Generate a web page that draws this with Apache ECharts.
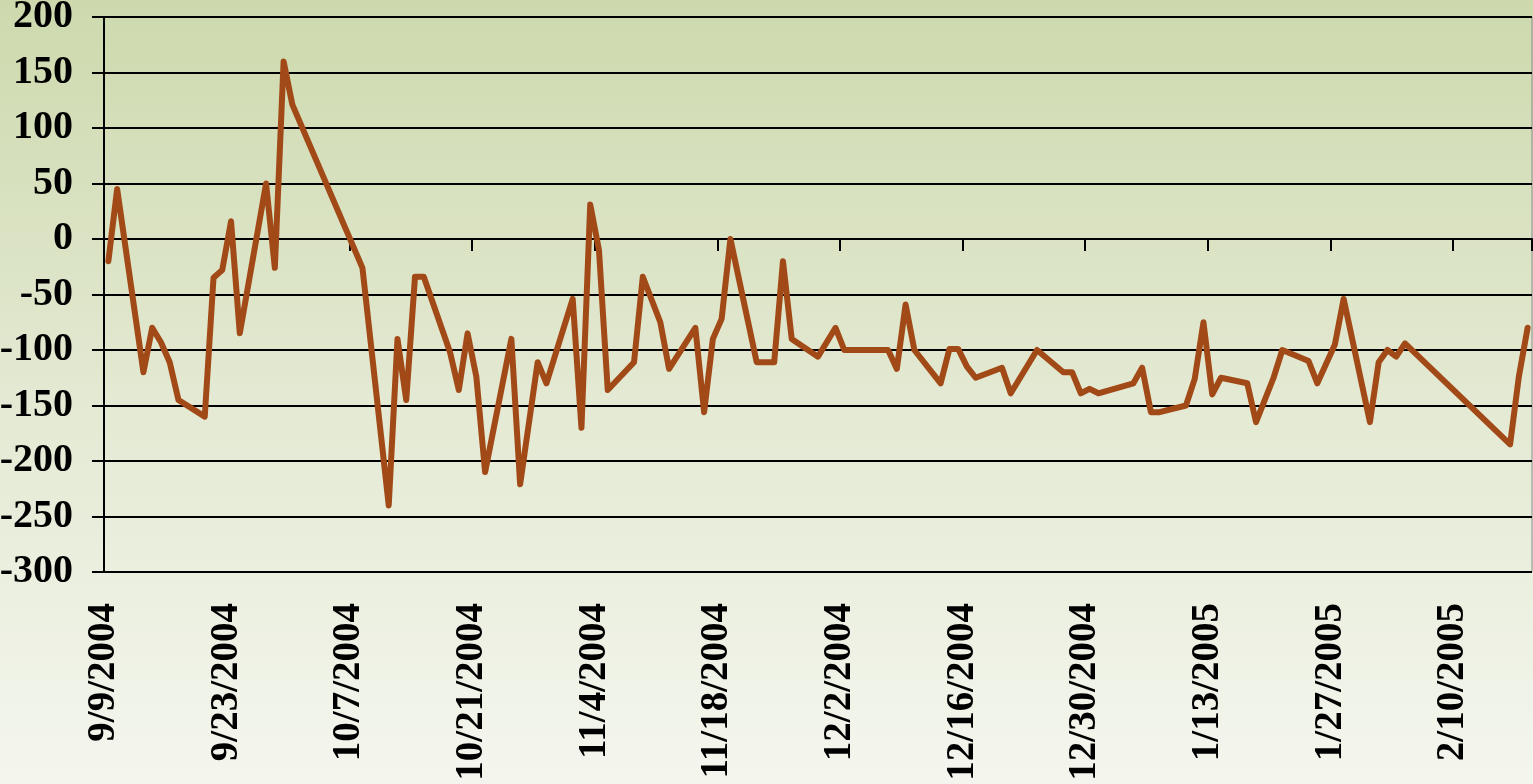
<!DOCTYPE html>
<html>
<head>
<meta charset="utf-8">
<script src="https://cdn.jsdelivr.net/npm/echarts@6/dist/echarts.min.js"></script>
<style>
  html, body { margin: 0; padding: 0; }
  #chart { width: 1533px; height: 784px; }
</style>
</head>
<body>
<div id="chart"></div>
<script>
// daily values
const dates = [
  '9/9/2004','9/10/2004','9/13/2004','9/14/2004','9/15/2004','9/16/2004','9/17/2004',
  '9/20/2004','9/21/2004','9/22/2004','9/23/2004','9/24/2004','9/27/2004','9/28/2004',
  '9/29/2004','9/30/2004','10/8/2004','10/11/2004','10/12/2004','10/13/2004','10/14/2004',
  '10/15/2004','10/18/2004','10/19/2004','10/20/2004','10/21/2004','10/22/2004','10/25/2004',
  '10/26/2004','10/28/2004','10/29/2004','11/1/2004','11/2/2004','11/3/2004','11/4/2004',
  '11/5/2004','11/8/2004','11/9/2004','11/11/2004','11/12/2004','11/15/2004','11/16/2004',
  '11/17/2004','11/18/2004','11/19/2004','11/22/2004','11/24/2004','11/25/2004','11/26/2004',
  '11/29/2004','12/1/2004','12/2/2004','12/7/2004','12/8/2004','12/9/2004','12/10/2004',
  '12/13/2004','12/14/2004','12/15/2004','12/16/2004','12/17/2004','12/20/2004','12/21/2004',
  '12/24/2004','12/27/2004','12/28/2004','12/29/2004','12/30/2004','12/31/2004','1/4/2005',
  '1/5/2005','1/6/2005','1/7/2005','1/10/2005','1/11/2005','1/12/2005','1/13/2005',
  '1/14/2005','1/17/2005','1/18/2005','1/20/2005','1/21/2005','1/24/2005','1/25/2005',
  '1/27/2005','1/28/2005','1/31/2005','2/1/2005','2/2/2005','2/3/2005','2/4/2005',
  '2/16/2005','2/17/2005','2/18/2005'
];
const values = [
  -20, 45, -120, -80, -93, -111, -145,
  -160, -35, -28, 16, -85, 50, -26,
  160, 121, -26, -240, -90, -145, -34,
  -34, -102, -136, -85, -124, -210, -90,
  -221, -111, -130, -54, -170, 31, -10,
  -136, -111, -34, -75, -117, -80, -156,
  -90, -72, 0, -111, -111, -20, -90,
  -106, -80, -100, -100, -117, -59, -100,
  -130, -99, -99, -115, -125, -116, -139,
  -100, -120, -120, -139, -135, -139, -130,
  -116, -156, -156, -150, -126, -75, -140,
  -125, -130, -165, -125, -100, -110, -130,
  -95, -54, -165, -111, -100, -106, -94,
  -185, -124, -80
];

const startDate = '9/9/2004';
const dayCount = 163;      // days shown on the axis
const tickDays = 14;
const yMin = -300, yMax = 200, yStep = 50;

const DAY = 86400000;
function parseDate(s) {
  const p = s.split('/').map(Number);
  return Date.UTC(p[2], p[0] - 1, p[1]);
}
const t0 = parseDate(startDate);
function dayLabel(v) {
  if (v % tickDays !== 0) return '';
  const d = new Date(t0 + v * DAY);
  return (d.getUTCMonth() + 1) + '/' + d.getUTCDate() + '/' + d.getUTCFullYear();
}

// each day is one slot, point sits in the middle of it
const points = dates.map((s, i) => [(parseDate(s) - t0) / DAY + 0.5, values[i]]);

const font = '"Liberation Serif", "Times New Roman", serif';
const chart = echarts.init(document.getElementById('chart'));

chart.setOption({
  animation: false,
  backgroundColor: {
    type: 'linear', x: 0, y: 0, x2: 0, y2: 1,
    colorStops: [
      { offset: 0, color: '#cdd9ad' },
      { offset: 0.5, color: '#e3e9d2' },
      { offset: 1, color: '#f4f6ee' }
    ]
  },
  grid: {
    left: 104, top: 17, right: 1, bottom: 212,
    outerBoundsMode: 'none', containLabel: false,
    show: true, backgroundColor: 'transparent', borderColor: '#8a8a8a', borderWidth: 1
  },
  xAxis: [
    {
      type: 'value', min: 0, max: dayCount, interval: tickDays,
      position: 'bottom',
      axisLine: { show: false, onZero: false },
      axisTick: { show: false },
      splitLine: { show: false },
      axisLabel: {
        rotate: 90, margin: 31, formatter: dayLabel,
        color: '#000', fontFamily: font, fontWeight: 'bold', fontSize: 39
      }
    },
    {
      type: 'value', min: 0, max: dayCount, interval: tickDays,
      position: 'bottom',
      axisLine: { show: true, onZero: true, lineStyle: { color: '#000', width: 2 } },
      axisTick: { show: true, length: 12, lineStyle: { color: '#000', width: 2 } },
      splitLine: { show: false },
      axisLabel: { show: false }
    }
  ],
  yAxis: {
    type: 'value', min: yMin, max: yMax, interval: yStep,
    axisLine: { show: true, lineStyle: { color: '#000', width: 2 } },
    axisTick: { show: true, length: 12, lineStyle: { color: '#000', width: 2 } },
    splitLine: { show: true, lineStyle: { color: '#000', width: 2 } },
    axisLabel: {
      margin: 31, color: '#000', fontFamily: font, fontWeight: 'bold', fontSize: 40
    }
  },
  series: [{
    type: 'line',
    xAxisIndex: 0,
    data: points,
    symbol: 'none',
    lineStyle: { color: '#a24a17', width: 6, cap: 'round', join: 'round' }
  }]
});
</script>
</body>
</html>
